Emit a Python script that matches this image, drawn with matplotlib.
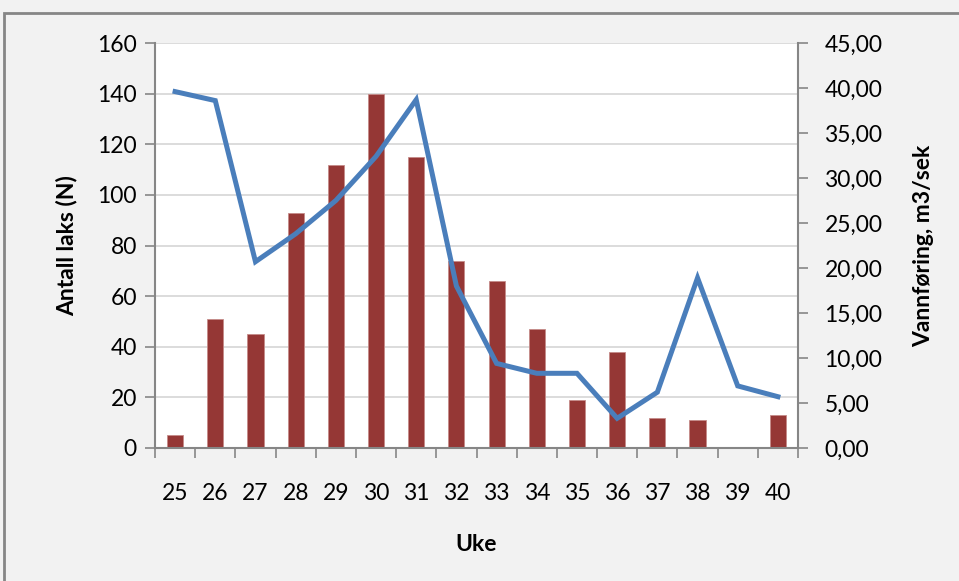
import numpy as np
import matplotlib.pyplot as plt
from matplotlib.ticker import FixedLocator, FuncFormatter
from matplotlib.patches import Rectangle

plt.rcParams['font.family'] = ['Lato', 'DejaVu Sans']

weeks = [25, 26, 27, 28, 29, 30, 31, 32, 33, 34, 35, 36, 37, 38, 39, 40]
laks = [5, 51, 45, 93, 112, 140, 115, 74, 66, 47, 19, 38, 12, 11, 0, 13]
vannforing = [39.6, 38.6, 20.7, 23.8, 27.5, 32.4, 38.7, 18.0, 9.4, 8.3, 8.3, 3.3, 6.2, 18.9, 6.9, 5.7]

bar_color = '#953735'
line_color = '#4A7EBB'
axis_gray = '#868686'
grid_gray = '#D9D9D9'
fs = 16.5

fig = plt.figure(figsize=(9.59, 5.81), dpi=100, facecolor='#F2F2F2')
fig.patches.append(Rectangle((4 / 959, -0.1), 1.2, 1 - 13 / 581 + 0.1, transform=fig.transFigure,
                             fill=False, edgecolor=axis_gray, linewidth=2, zorder=0))

ax = fig.add_axes([155 / 959, 1 - 448 / 581, (798 - 155) / 959, (448 - 43) / 581])
ax.set_facecolor('white')
x = np.arange(len(weeks))
ax.bar(x, laks, width=0.4, color=bar_color, edgecolor='#C58B89', linewidth=0.6, zorder=2)
ax.set_xlim(-0.5, len(weeks) - 0.5)
ax.set_ylim(0, 160)
ax.set_yticks(np.arange(0, 161, 20))
ax.yaxis.grid(True, color=grid_gray, linewidth=1.3, zorder=0)
ax.set_axisbelow(True)
ax.set_xticks(x)
ax.set_xticklabels([str(w) for w in weeks])
ax.xaxis.set_minor_locator(FixedLocator(np.arange(-0.5, len(weeks), 1)))
ax.tick_params(axis='x', which='major', length=0, pad=25, labelsize=fs)
ax.tick_params(axis='x', which='minor', length=7, width=1.2, color=axis_gray, direction='out')
ax.tick_params(axis='y', length=7, width=1.2, color=axis_gray, pad=6, labelsize=fs)
for s in ['top', 'right']:
    ax.spines[s].set_visible(False)
for s in ['left', 'bottom']:
    ax.spines[s].set_color(axis_gray)
    ax.spines[s].set_linewidth(1.5)
ax.set_ylabel('Antall laks (N)', fontsize=fs, fontweight='bold', labelpad=14)
ax.set_xlabel('Uke', fontsize=fs, fontweight='bold', labelpad=22)

ax2 = ax.twinx()
ax2.plot(x, vannforing, color=line_color, linewidth=3.6, solid_joinstyle='miter', zorder=3)
ax2.set_ylim(0, 45)
ax2.set_yticks(np.arange(0, 46, 5))
ax2.yaxis.set_major_formatter(FuncFormatter(lambda v, p: f'{v:.2f}'.replace('.', ',')))
ax2.tick_params(axis='y', length=7, width=1.2, color=axis_gray, pad=12, labelsize=fs)
for s in ['top', 'left', 'bottom']:
    ax2.spines[s].set_visible(False)
ax2.spines['right'].set_color(axis_gray)
ax2.spines['right'].set_linewidth(1.5)
ax2.set_ylabel('Vannføring, m3/sek', fontsize=fs, fontweight='bold', labelpad=22)

fig.savefig('out.png', dpi=100, facecolor=fig.get_facecolor())
